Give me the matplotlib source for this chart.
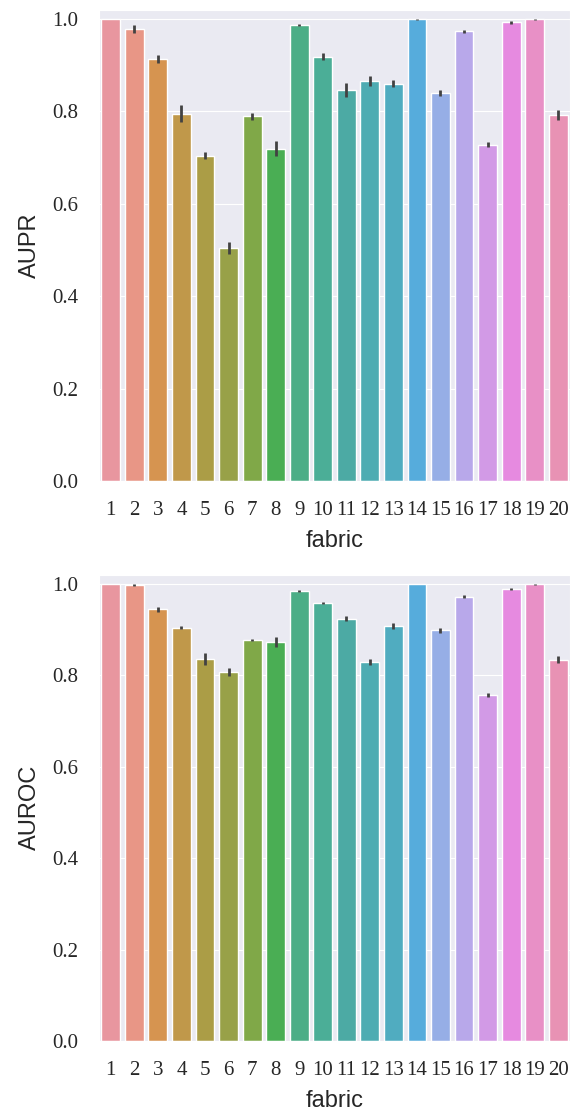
import matplotlib
matplotlib.use("Agg")
import matplotlib.pyplot as plt
import seaborn as sns

sns.set_style("darkgrid")

# ======= データ =======
fabrics = [str(i) for i in range(1, 21)]

aupr = [1.000, 0.978, 0.913, 0.795, 0.704, 0.505, 0.789, 0.719, 0.987, 0.918,
        0.846, 0.866, 0.860, 0.999, 0.840, 0.973, 0.728, 0.993, 0.999, 0.792]
aupr_err = [0.000, 0.008, 0.009, 0.018, 0.008, 0.013, 0.008, 0.016, 0.002, 0.008,
            0.015, 0.011, 0.008, 0.001, 0.007, 0.003, 0.005, 0.003, 0.001, 0.010]

auroc = [1.000, 0.997, 0.944, 0.904, 0.835, 0.807, 0.877, 0.872, 0.985, 0.958,
         0.924, 0.829, 0.907, 0.999, 0.898, 0.972, 0.757, 0.989, 0.999, 0.834]
auroc_err = [0.000, 0.002, 0.006, 0.004, 0.013, 0.008, 0.002, 0.011, 0.002, 0.003,
             0.005, 0.006, 0.007, 0.000, 0.006, 0.003, 0.004, 0.002, 0.001, 0.008]

# 画像から読み取った色（husl 系）
colors = ["#E8969F", "#E89686", "#D69450", "#C0984A", "#AB9D46",
          "#98A148", "#80A848", "#4AAE54", "#4BAE86", "#4BAE97",
          "#4CAAA4", "#4EACB2", "#50ACC0", "#56ACDC", "#96AEE6",
          "#B8A8EA", "#D29AE6", "#E68AE0", "#E890C6", "#E892B4"]

fig = plt.figure(figsize=(5.76, 11.11), dpi=100)
ax_top = fig.add_axes([0.1719, 0.5671, 0.8177, 0.4242])
ax_bot = fig.add_axes([0.1719, 0.0630, 0.8177, 0.4198])

for ax, vals, errs, ylabel in [(ax_top, aupr, aupr_err, "AUPR"),
                               (ax_bot, auroc, auroc_err, "AUROC")]:
    xs = range(len(fabrics))
    ax.bar(xs, vals, width=0.8, color=colors, edgecolor="white", linewidth=1, zorder=2)
    ax.errorbar(xs, vals, yerr=errs, fmt="none", ecolor="#424242", elinewidth=2.0,
                capsize=0, zorder=3)
    ax.set_xlim(-0.5, len(fabrics) - 0.5)
    ax.set_ylim(0, 1.02)
    ax.set_xticks(list(xs))
    ax.set_xticklabels(fabrics, family="Liberation Serif", fontsize=15)
    ax.set_yticks([0.0, 0.2, 0.4, 0.6, 0.8, 1.0])
    ax.set_yticklabels(["0.0", "0.2", "0.4", "0.6", "0.8", "1.0"],
                       family="Liberation Serif", fontsize=15)
    ax.tick_params(axis="x", length=0, pad=14.5)
    ax.tick_params(axis="y", length=0, pad=15)
    ax.xaxis.grid(False)
    ax.set_axisbelow(True)
    ax.set_ylabel(ylabel, family="Liberation Sans", fontsize=17, labelpad=8)
    ax.set_xlabel("fabric", family="Liberation Sans", fontsize=17, labelpad=7)

fig.savefig("out.png", dpi=100)
